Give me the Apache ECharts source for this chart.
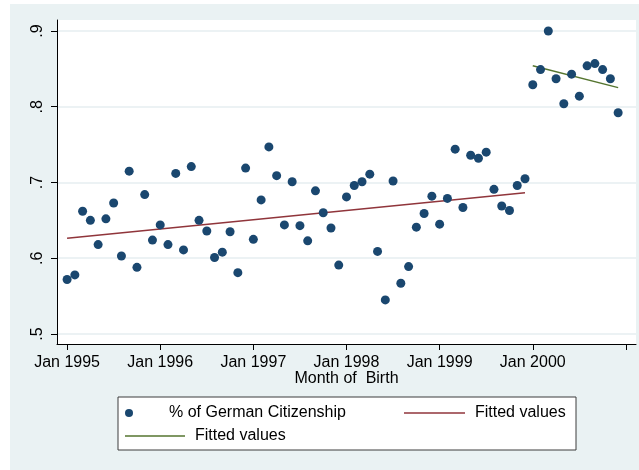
<!DOCTYPE html>
<html>
<head>
<meta charset="utf-8">
<script src="https://cdn.jsdelivr.net/npm/echarts@6/dist/echarts.min.js"></script>
<style>
  html, body { margin: 0; padding: 0; background: #fff; }
  #chart { width: 639px; height: 470px; }
</style>
</head>
<body>
<div id="chart"></div>
<script>
// share of German citizenship by month of birth, Jan 1995 .. Dec 2000 (month 0 = Jan 1995)
const shareGerman = [
  0.572, 0.578, 0.662, 0.650, 0.618, 0.652, 0.673, 0.603, 0.715, 0.588, 0.684, 0.624,
  0.644, 0.618, 0.712, 0.611, 0.721, 0.650, 0.636, 0.601, 0.608, 0.635, 0.581, 0.719,
  0.625, 0.677, 0.747, 0.709, 0.644, 0.701, 0.643, 0.623, 0.689, 0.660, 0.640, 0.591,
  0.681, 0.696, 0.701, 0.711, 0.609, 0.545, 0.702, 0.567, 0.589, 0.641, 0.659, 0.682,
  0.645, 0.679, 0.744, 0.667, 0.736, 0.732, 0.740, 0.691, 0.669, 0.663, 0.696, 0.705,
  0.829, 0.849, 0.900, 0.837, 0.804, 0.843, 0.814, 0.854, 0.857, 0.849, 0.837, 0.792
];
// fitted lines (end points)
const fitBefore = [[0, 0.6263], [59, 0.6865]];
const fitAfter = [[60, 0.8542], [71, 0.8252]];

const xTickValues = [0, 12, 24, 36, 48, 60, 72];
const xLabelValues = [0, 12, 24, 36, 48, 60];
const xLabels = ['Jan 1995', 'Jan 1996', 'Jan 1997', 'Jan 1998', 'Jan 1999', 'Jan 2000'];
const yTickValues = [0.5, 0.6, 0.7, 0.8, 0.9];
const yLabels = ['.5', '.6', '.7', '.8', '.9'];

const FONT = '"Liberation Sans", Arial, sans-serif';
const NAVY = '#1a476f', MAROON = '#90353b', GREEN = '#55752f';

const points = shareGerman.map((v, i) => [i, v]);

const legendText = { fontSize: 16, color: '#000', lineHeight: 16, padding: [0, 0, 0, 5], fontFamily: FONT };

const chart = echarts.init(document.getElementById('chart'));
chart.setOption({
  backgroundColor: '#ffffff',
  animation: false,
  textStyle: { fontFamily: FONT },
  graphic: [
    { type: 'rect', z: -10, silent: true, shape: { x: 10, y: 4, width: 629, height: 466 }, style: { fill: '#eaf2f3' } },
    { type: 'rect', z: 1, silent: true, shape: { x: 118, y: 397, width: 458, height: 53 }, style: { fill: '#ffffff', stroke: '#3c3c3c', lineWidth: 1 } },
    { type: 'text', z: 5, silent: true, x: 346.5, y: 379,
      style: { text: 'Month of  Birth', font: '16px ' + FONT, fill: '#000', align: 'center', verticalAlign: 'middle' } }
  ],
  grid: {
    left: 57, right: 3, top: 20, bottom: 126,
    show: true, backgroundColor: '#ffffff', borderWidth: 0
  },
  xAxis: {
    type: 'value', min: -1.3, max: 73.3,
    axisLine: { show: true, onZero: false, lineStyle: { color: '#000', width: 1 } },
    axisTick: { show: true, length: 6, customValues: xTickValues, lineStyle: { color: '#000' } },
    axisLabel: {
      customValues: xLabelValues, margin: 11, fontSize: 16, color: '#000', fontFamily: FONT,
      formatter: v => xLabels[xLabelValues.indexOf(v)] || ''
    },
    splitLine: { show: false }
  },
  yAxis: {
    type: 'value', min: 0.4868, max: 0.9145,
    axisLine: { show: true, onZero: false, lineStyle: { color: '#000', width: 1 } },
    axisTick: { show: true, length: 6, customValues: yTickValues, lineStyle: { color: '#000' } },
    axisLabel: {
      customValues: yTickValues, rotate: 90, margin: 11, fontSize: 16, color: '#000', fontFamily: FONT,
      formatter: v => yLabels[yTickValues.findIndex(t => Math.abs(t - v) < 1e-6)] || ''
    },
    splitLine: { show: true, lineStyle: { color: '#e6eef1', width: 1.5 } }
  },
  legend: [
    { data: ['% of German Citizenship'], left: 125, top: 405, padding: 0, itemWidth: 60, itemHeight: 8,
      selectedMode: false, textStyle: legendText },
    { data: [{ name: 'Fitted values', icon: 'rect' }], left: 404, top: 405, padding: 0, itemWidth: 61, itemHeight: 1.5,
      selectedMode: false, textStyle: legendText },
    { data: [{ name: 'Fitted values 2', icon: 'rect' }], left: 125, top: 428, padding: 0, itemWidth: 60, itemHeight: 1.5,
      selectedMode: false, formatter: () => 'Fitted values', textStyle: legendText }
  ],
  series: [
    {
      name: '% of German Citizenship', type: 'scatter', data: points,
      symbol: 'circle', symbolSize: 9, itemStyle: { color: NAVY, opacity: 1 }, z: 3
    },
    {
      name: 'Fitted values', type: 'line', data: fitBefore, symbol: 'none', showSymbol: false,
      lineStyle: { color: MAROON, width: 1.5 }, itemStyle: { color: MAROON }, z: 2
    },
    {
      name: 'Fitted values 2', type: 'line', data: fitAfter, symbol: 'none', showSymbol: false,
      lineStyle: { color: GREEN, width: 1.5 }, itemStyle: { color: GREEN }, z: 2
    }
  ]
});
</script>
</body>
</html>
